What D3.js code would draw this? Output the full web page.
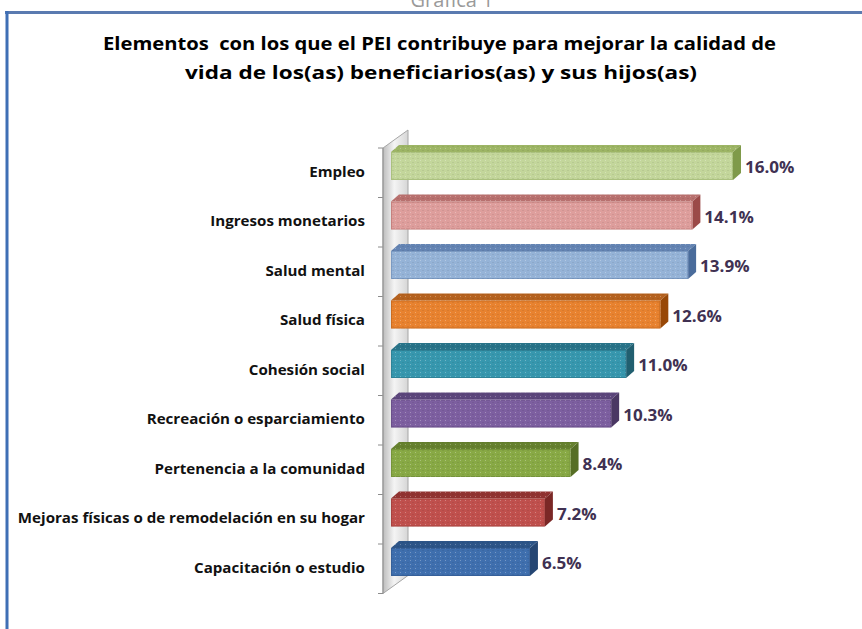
<!DOCTYPE html>
<html><head><meta charset="utf-8">
<script src="https://cdn.jsdelivr.net/npm/d3@7"></script>
<style>
html,body{margin:0;padding:0;background:#fff;}
svg{display:block;}
</style></head>
<body>
<svg id="chart" width="862" height="629"></svg>
<script>
const categories = ["Empleo","Ingresos monetarios","Salud mental","Salud física","Cohesión social","Recreación o esparciamiento","Pertenencia a la comunidad","Mejoras físicas o de remodelación en su hogar","Capacitación o estudio"];
const values = [16.0, 14.1, 13.9, 12.6, 11.0, 10.3, 8.4, 7.2, 6.5];
const valueLabels = ["16.0%","14.1%","13.9%","12.6%","11.0%","10.3%","8.4%","7.2%","6.5%"];
const titleLines = ["Elementos  con los que el PEI contribuye para mejorar la calidad de","vida de los(as) beneficiarios(as) y sus hijos(as)"];
const frontColors = ["#C3D69B","#DE9E9C","#95B3D7","#E8822F","#3797AE","#7D5FA0","#88A945","#C0504D","#3F6FAE"];
const topColors   = ["#9DB565","#B8706E","#6484B3","#B5621F","#2A7489","#5C467C","#66812F","#913331","#2D5588"];
const sideColors  = ["#7F9A4A","#9B4A48","#4A6C9B","#984807","#215F70","#4A3763","#566E25","#7B2826","#254673"];

const svg = d3.select("#chart");
const font = "'Open Sans', 'DejaVu Sans', sans-serif";

// defs
const defs = svg.append("defs");
const wg = defs.append("linearGradient").attr("id","wallGrad").attr("x1","0").attr("x2","1").attr("y1","0").attr("y2","0");
wg.append("stop").attr("offset","0%").attr("stop-color","#bdbdbd");
wg.append("stop").attr("offset","45%").attr("stop-color","#f4f4f4");
wg.append("stop").attr("offset","100%").attr("stop-color","#d6d6d6");
const pat = defs.append("pattern").attr("id","dots").attr("patternUnits","userSpaceOnUse").attr("width",5).attr("height",4);
pat.append("rect").attr("x",0).attr("y",0).attr("width",1).attr("height",1).attr("fill","#fff").attr("opacity",0.28);
pat.append("rect").attr("x",2.5).attr("y",2).attr("width",1).attr("height",1).attr("fill","#000").attr("opacity",0.12);

// frame
svg.append("text").attr("x",452).attr("y",7).attr("text-anchor","middle")
  .attr("font-family",font).attr("font-size",20).attr("fill","#9a9a9a").text("Gráfica 1");
svg.append("line").attr("x1",5).attr("x2",862).attr("y1",12.5).attr("y2",12.5).attr("stroke","#5a7ab0").attr("stroke-width",3);
svg.append("line").attr("x1",7).attr("x2",7).attr("y1",11).attr("y2",629).attr("stroke","#3f6fb5").attr("stroke-width",3);

// title
const titleWidths = [673, 512];
svg.append("g").selectAll("text").data(titleLines).join("text")
  .attr("x",(d,i)=>i===0?439.5:441).attr("y",(d,i)=>49.5+i*29).attr("text-anchor","middle")
  .attr("font-family",font).attr("font-weight","bold").attr("font-size",17.5).attr("fill","#000")
  .attr("textLength",(d,i)=>titleWidths[i]).attr("lengthAdjust","spacingAndGlyphs")
  .attr("xml:space","preserve").style("white-space","pre").text(d=>d);

// scales
const x = d3.scaleLinear().domain([0,16]).range([391,733]);
const y = d3.scaleBand().domain(categories).range([148,593.5]).padding(0);
const dx = 8, dy = -7, barH = 28, barOff = 4;
const wallX0 = 383, wallDX = 25, wallDY = -18;
const yTop = y.range()[0], yBot = y.range()[1];

// wall (value = 0 plane)
svg.append("path")
  .attr("d", d3.line()([[wallX0,yTop],[wallX0+wallDX,yTop+wallDY],[wallX0+wallDX,yBot+wallDY],[wallX0,yBot]]) + "Z")
  .attr("fill","url(#wallGrad)").attr("stroke","#a6a6a6").attr("stroke-width",1);

// category axis ticks
const ticks = d3.range(categories.length+1).map(i=> yTop + i*y.step());
svg.append("g").selectAll("line").data(ticks).join("line")
  .attr("x1",wallX0-5).attr("x2",wallX0).attr("y1",d=>d).attr("y2",d=>d)
  .attr("stroke","#8c8c8c").attr("stroke-width",1);
svg.append("line").attr("x1",wallX0).attr("x2",wallX0).attr("y1",yTop).attr("y2",yBot).attr("stroke","#999").attr("stroke-width",1.2);

// bars
const bars = svg.append("g").selectAll("g").data(categories).join("g");
bars.each(function(c,i){
  const g = d3.select(this);
  const x0 = x(0), x1 = x(values[i]);
  const yy = y(c) + barOff;
  const topPts = [[x0,yy],[x0+dx,yy+dy],[x1+dx,yy+dy],[x1,yy]];
  g.append("path").attr("d", d3.line()(topPts)+"Z").attr("fill",topColors[i]);
  g.append("path").attr("d", d3.line()(topPts)+"Z").attr("fill","url(#dots)");
  g.append("path").attr("d", d3.line()([[x1,yy],[x1+dx,yy+dy],[x1+dx,yy+barH+dy],[x1,yy+barH]])+"Z")
    .attr("fill",sideColors[i]);
  g.append("rect").attr("x",x0).attr("y",yy).attr("width",x1-x0).attr("height",barH)
    .attr("fill",frontColors[i]);
  g.append("rect").attr("x",x0).attr("y",yy).attr("width",x1-x0).attr("height",barH)
    .attr("fill","url(#dots)");
  g.append("rect").attr("x",x0+0.5).attr("y",yy+0.5).attr("width",x1-x0-1).attr("height",barH-1)
    .attr("fill","none").attr("stroke",sideColors[i]).attr("stroke-opacity",0.35).attr("stroke-width",1);
});

// category labels (horizontally stretched like the reference)
svg.append("g").selectAll("text").data(categories).join("text")
  .attr("x",365).attr("y",c=>y(c)+y.bandwidth()/2-1).attr("dy","0.35em").attr("text-anchor","end")
  .attr("font-family",font).attr("font-weight","bold").attr("font-size",14).attr("fill","#111")
  .text(c=>c)
  .each(function(){ const w=this.getComputedTextLength(); d3.select(this).attr("textLength",w*1.08).attr("lengthAdjust","spacingAndGlyphs"); });

// value labels
svg.append("g").selectAll("text").data(categories).join("text")
  .attr("x",(c,i)=>x(values[i])+dx+4).attr("y",c=>y(c)+y.bandwidth()/2-5).attr("dy","0.35em")
  .attr("font-family",font).attr("font-weight","bold").attr("font-size",15.5).attr("fill","#403152")
  .text((c,i)=>valueLabels[i])
  .each(function(){ const w=this.getComputedTextLength(); d3.select(this).attr("textLength",w*1.1).attr("lengthAdjust","spacingAndGlyphs"); });
</script>
</body></html>
